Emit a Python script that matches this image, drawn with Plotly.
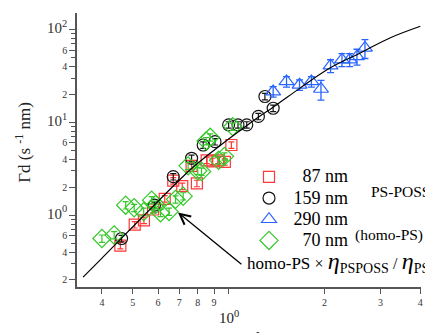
import numpy as np
import plotly.graph_objects as go

# ---- data ----
q_87 = [0.457, 0.507, 0.542, 0.579, 0.63, 0.67, 0.715, 0.765, 0.795, 0.853, 0.89, 0.927, 0.973, 1.02]
g_87 = [0.47, 0.79, 0.88, 1.15, 1.5, 2.35, 2.05, 3.4, 2.2, 3.9, 3.8, 3.9, 3.75, 5.7]

q_159 = [0.461, 0.585, 0.67, 0.765, 0.832, 0.906, 1.0, 1.07, 1.14, 1.24, 1.30, 1.38]
g_159 = [0.56, 1.28, 2.6, 4.1, 5.7, 6.2, 9.4, 9.4, 9.4, 11.6, 19.0, 14.2]

q_290 = [1.38, 1.52, 1.67, 1.82, 1.95, 2.09, 2.27, 2.40, 2.53, 2.68]
g_290 = [21.5, 27.6, 25.4, 27.6, 22.9, 40.8, 47.4, 47.4, 51.4, 63.4]
e_290 = [2.8, 3.6, 3.3, 3.6, 5.5, 6.5, 7.6, 7.6, 10.0, 14.6]

q_70 = [0.40, 0.437, 0.475, 0.505, 0.541, 0.573, 0.59, 0.611, 0.65, 0.681, 0.72,
        0.746, 0.80, 0.822, 0.85, 0.875, 0.93, 0.97, 1.03]
g_70 = [0.56, 0.61, 1.28, 1.2, 1.09, 1.45, 1.3, 1.06, 1.09, 1.48, 1.6,
        3.4, 3.0, 2.95, 6.3, 6.9, 3.9, 4.3, 9.0]

q_fit = [0.349, 0.396, 0.756, 0.875, 1.167, 1.416, 1.676, 2.08, 2.59, 3.21, 4.0]
g_fit = [0.215, 0.332, 3.07, 4.65, 9.8, 15.5, 23.4, 38.5, 56, 81.3, 108.6]

x_tickvals = [0.4, 0.5, 0.6, 0.7, 0.8, 0.9, 1, 2, 3, 4]
x_ticktext = ["4", "5", "6", "7", "8", "9", "", "2", "3", "4"]

y_tickvals = [0.2, 0.4, 0.6, 1, 2, 4, 6, 10, 20, 40, 60, 100]
y_ticktext = ["2", "4", "6", "10<sup>0</sup>", "2", "4", "6", "10<sup>1</sup>",
              "2", "4", "6", "10<sup>2</sup>"]
y_minor = [0.3, 0.5, 0.7, 0.8, 0.9, 3, 5, 7, 8, 9, 30, 50, 70, 80, 90]

RED = "rgb(255,55,55)"
BLACK = "rgb(20,20,20)"
BLUE = "rgb(40,100,255)"
GREEN = "rgb(50,200,40)"
SERIF = "Liberation Serif"


def big(t):
    return "<span style='font-size:15px'>%s</span>" % t


def leg(t):
    return "<span style='font-size:18px'>%s</span>" % t


fig = go.Figure()

fig.add_trace(go.Scatter(
    x=q_87, y=g_87, mode="markers", name=leg("\u00a0\u00a0\u00a087 nm"),
    marker=dict(symbol="square-open", size=11, color=RED, line=dict(width=1.2, color=RED)),
    error_y=dict(type="percent", value=8, color=RED, thickness=1.2, width=3)))
fig.add_trace(go.Scatter(
    x=q_159, y=g_159, mode="markers", name=leg("\u00a0159 nm"),
    marker=dict(symbol="circle-open", size=12, color=BLACK, line=dict(width=1.2, color=BLACK)),
    error_y=dict(type="percent", value=8, color=BLACK, thickness=1.2, width=3)))
fig.add_trace(go.Scatter(
    x=q_290, y=g_290, mode="markers", name=leg("\u00a0290 nm"),
    marker=dict(symbol="triangle-up-open", size=13, color=BLUE, line=dict(width=1.2, color=BLUE)),
    error_y=dict(type="data", array=e_290, color=BLUE, thickness=1.3, width=3.5)))
fig.add_trace(go.Scatter(
    x=q_70, y=g_70, mode="markers", name=leg("\u00a0\u00a0\u00a070 nm"),
    marker=dict(symbol="diamond-open", size=14, color=GREEN, line=dict(width=1.2, color=GREEN)),
    error_y=dict(type="percent", value=9, color=GREEN, thickness=1.2, width=3)))
fig.add_trace(go.Scatter(
    x=q_fit, y=g_fit, mode="lines", showlegend=False,
    line=dict(color="black", width=1.2, shape="spline")))

axis_common = dict(
    type="log", showline=True, linecolor="#555", linewidth=1.5,
    ticks="outside", tickcolor="#555", tickwidth=1.2,
    showgrid=False, zeroline=False, tickmode="array",
    tickfont=dict(family=SERIF, size=10, color="#333"),
)

fig.update_xaxes(**axis_common, range=[np.log10(0.334), np.log10(4.02)],
                 tickvals=x_tickvals, ticktext=x_ticktext, ticklen=5)
fig.update_yaxes(**axis_common, range=[np.log10(0.168), np.log10(151)],
                 tickvals=y_tickvals,
                 ticktext=[big(t) if "sup" in t else t for t in y_ticktext],
                 ticklen=6,
                 minor=dict(tickmode="array", tickvals=y_minor, ticklen=4,
                            ticks="outside", tickcolor="#555", tickwidth=1.2))

ann = []
# y axis title
ann.append(dict(text="Γd (s <sup>-1</sup> nm)", xref="paper", yref="paper",
                x=-0.157, y=0.53, xanchor="center", yanchor="middle",
                textangle=-90, showarrow=False,
                font=dict(family=SERIF, size=17, color="#222")))
# x-axis 10^0 label and title
ann.append(dict(text="10<sup>0</sup>", xref="x", yref="paper", x=0, y=-0.108,
                xanchor="center", yanchor="middle",
                showarrow=False, font=dict(family=SERIF, size=15, color="#222")))
ann.append(dict(text="qd", xref="paper", yref="paper", x=0.51, y=-0.187,
                xanchor="center", yanchor="middle",
                showarrow=False, font=dict(family=SERIF, size=17, color="#222")))
# labels
ann.append(dict(text="PS-POSS", xref="paper", yref="paper", x=0.94, y=0.348,
                xanchor="center", yanchor="middle",
                showarrow=False, font=dict(family=SERIF, size=15.5, color="black")))
ann.append(dict(text="(homo-PS)", xref="paper", yref="paper", x=0.908, y=0.189,
                xanchor="center", yanchor="middle",
                showarrow=False, font=dict(family=SERIF, size=15.5, color="black")))
# arrow
ann.append(dict(text="", x=np.log10(0.693), y=np.log10(1.07), xref="x", yref="y",
                ax=65, ay=53, showarrow=True, arrowhead=5, arrowsize=1.6,
                arrowwidth=1.3, arrowcolor="black", standoff=0))
ann.append(dict(
    text="homo-PS <span style='font-size:16px'>×</span> "
         "<i><span style='font-size:24px'>η</span></i>"
         "<sub><span style='font-size:14px'>PSPOSS</span></sub> "
         "<span style='font-size:16px'>/</span> "
         "<i><span style='font-size:24px'>η</span></i>"
         "<sub><span style='font-size:14px'>PS</span></sub>",
    xref="paper", yref="paper", x=0.489, y=0.093, xanchor="left", yanchor="middle",
    showarrow=False, font=dict(family=SERIF, size=17, color="black")))

# page body has an 8px margin: figure is sized/offset to compensate
fig.update_layout(
    width=425, height=325,
    margin=dict(l=69, r=12, t=5, b=46),
    paper_bgcolor="white", plot_bgcolor="white",
    font=dict(family=SERIF, color="black"),
    annotations=ann,
    legend=dict(x=0.5, y=0.459, xanchor="left", yanchor="top",
                bgcolor="rgba(0,0,0,0)", font=dict(family=SERIF, size=14),
                tracegroupgap=0, itemwidth=30),
)

fig.write_html("out.html")
